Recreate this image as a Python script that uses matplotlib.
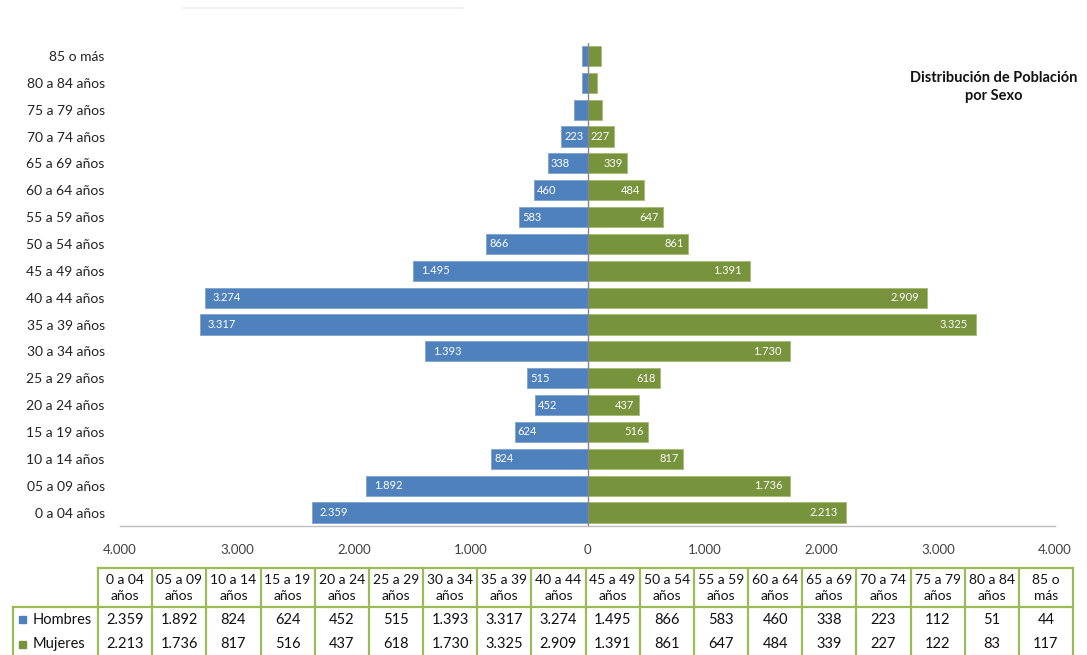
import matplotlib
matplotlib.use("Agg")
import matplotlib.pyplot as plt
from matplotlib.patches import Rectangle

plt.rcParams['font.family'] = ['Lato', 'DejaVu Sans']

categories = ["0 a 04 años", "05 a 09 años", "10 a 14 años", "15 a 19 años", "20 a 24 años",
              "25 a 29 años", "30 a 34 años", "35 a 39 años", "40 a 44 años", "45 a 49 años",
              "50 a 54 años", "55 a 59 años", "60 a 64 años", "65 a 69 años", "70 a 74 años",
              "75 a 79 años", "80 a 84 años", "85 o más"]
table_headers = ["0 a 04\naños", "05 a 09\naños", "10 a 14\naños", "15 a 19\naños", "20 a 24\naños",
                 "25 a 29\naños", "30 a 34\naños", "35 a 39\naños", "40 a 44\naños", "45 a 49\naños",
                 "50 a 54\naños", "55 a 59\naños", "60 a 64\naños", "65 a 69\naños", "70 a 74\naños",
                 "75 a 79\naños", "80 a 84\naños", "85 o\nmás"]
hombres = [2359, 1892, 824, 624, 452, 515, 1393, 3317, 3274, 1495, 866, 583, 460, 338, 223, 112, 51, 44]
mujeres = [2213, 1736, 817, 516, 437, 618, 1730, 3325, 2909, 1391, 861, 647, 484, 339, 227, 122, 83, 117]
xticks = [-4000, -3000, -2000, -1000, 0, 1000, 2000, 3000, 4000]
xtick_labels = ["4.000", "3.000", "2.000", "1.000", "0", "1.000", "2.000", "3.000", "4.000"]
series_names = ["Hombres", "Mujeres"]
title = "Distribución de Población\npor Sexo"

BLUE = "#4F81BD"
GREEN = "#77933C"
BORDER = "#9BBB59"
TXT = "#404040"

W, H = 1087, 655
fig = plt.figure(figsize=(W / 100, H / 100), dpi=100)

def fmt(v):
    return f"{v:,}".replace(",", ".")

# main axes: x from 120px to 1055px, y from ~42px to ~526px
ax = fig.add_axes([120 / W, 1 - 526 / H, 935 / W, (526 - 42.5) / H])
y = list(range(len(categories)))
ax.barh(y, [-v for v in hombres], height=0.75, color=BLUE, edgecolor="#7FA3D0", linewidth=0.6)
ax.barh(y, mujeres, height=0.75, color=GREEN, edgecolor="#A5BC72", linewidth=0.6)
ax.set_xlim(-4000, 4000)
ax.set_ylim(-0.5, len(categories) - 0.5)
ax.set_yticks(y)
ax.set_yticklabels(categories, fontsize=10, color="#222222")
ax.set_xticks(xticks)
ax.set_xticklabels(xtick_labels, fontsize=9.5, color=TXT)
ax.tick_params(axis="both", length=0)
ax.tick_params(axis="x", pad=13)
ax.tick_params(axis="y", pad=11)
for s in ["top", "right", "left"]:
    ax.spines[s].set_visible(False)
ax.spines["bottom"].set_color("#BFBFBF")
ax.spines["bottom"].set_linewidth(1.0)
ax.axvline(0, color="#868686", linewidth=1.0, zorder=3)

px = 8000 / 935.0  # data units per pixel
for i, (h, m) in enumerate(zip(hombres, mujeres)):
    if h >= 200:
        pad = 8 if h > 1000 else 3
        ax.text(-h + pad * px, i, fmt(h), ha="left", va="center", color="white", fontsize=8, zorder=4)
    if m >= 200:
        pad = 8 if m > 1000 else 4
        ax.text(m - pad * px, i, fmt(m), ha="right", va="center", color="white", fontsize=8, zorder=4)

fig.text(994 / W, 1 - 87 / H, title, ha="center", va="center", fontsize=10.5, fontweight="bold",
         color="#111111", linespacing=1.45)

# faint artifact line at top
fig.add_artist(plt.Line2D([183 / W, 463 / W], [1 - 8 / H, 1 - 8 / H], color="#EEEEEE", linewidth=1.2))

# data table drawn in pixel coordinates
tax = fig.add_axes([0, 0, 1, 1])
tax.set_xlim(0, W)
tax.set_ylim(H, 0)
tax.axis("off")
x0 = 98
cw = (1073 - 98) / len(table_headers)
top = 568
hdr_bot = 607
row_h = 24.5
bottom = 660
lw = 1.6
ncol = len(table_headers)
tax.plot([x0, x0 + ncol * cw], [top, top], color=BORDER, lw=lw)
tax.plot([13, x0 + ncol * cw], [hdr_bot, hdr_bot], color=BORDER, lw=lw)
tax.plot([13, 13], [hdr_bot, bottom], color=BORDER, lw=lw)
for c in range(ncol + 1):
    tax.plot([x0 + c * cw, x0 + c * cw], [top, bottom], color=BORDER, lw=lw)
for c, hd in enumerate(table_headers):
    tax.text(x0 + (c + 0.5) * cw, (top + hdr_bot) / 2 + 0.5, hd, ha="center", va="center",
             fontsize=10, color="#111111", linespacing=1.3)
series_vals = [hombres, mujeres]
series_cols = [BLUE, GREEN]
for r, (name, vals, col) in enumerate(zip(series_names, series_vals, series_cols)):
    yc = hdr_bot + row_h * (r + 0.5) + 0.5
    tax.add_patch(Rectangle((19, yc - 3.5), 7, 7, color=col))
    tax.text(33, yc, name, ha="left", va="center", fontsize=10.5, color="#111111")
    for c, v in enumerate(vals):
        tax.text(x0 + (c + 0.5) * cw, yc, fmt(v), ha="center", va="center", fontsize=10.5, color="#111111")

fig.savefig("out.png", dpi=100, facecolor="white")
